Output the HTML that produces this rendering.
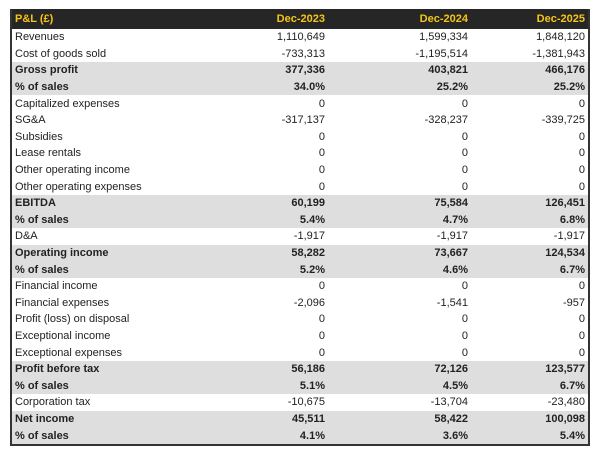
<!DOCTYPE html><html><head><style>
body{margin:0;width:600px;height:458px;background:#fff;font-family:"Liberation Sans",sans-serif;}
table{position:absolute;left:10px;top:9px;width:580px;border-collapse:collapse;border:2px solid #333;border-top:none;font-size:11px;color:#222;}
th{background:#262626;color:#f5c518;font-weight:bold;height:20px;padding:0 3px;text-align:right;}
th:first-child{text-align:left;}
td{height:16.6px;padding:0 3px;text-align:right;line-height:16px;}
td:first-child{text-align:left;width:238px;}
tr.b td{background:#dedede;font-weight:bold;}
col.c1{width:245px}
</style></head><body>
<table>
<colgroup><col style="width:245px"><col style="width:72px"><col style="width:143px"><col></colgroup>
<tr><th>P&amp;L (£)</th><th>Dec-2023</th><th>Dec-2024</th><th>Dec-2025</th></tr>
<tr><td>Revenues</td><td>1,110,649</td><td>1,599,334</td><td>1,848,120</td></tr>
<tr><td>Cost of goods sold</td><td>-733,313</td><td>-1,195,514</td><td>-1,381,943</td></tr>
<tr class="b"><td>Gross profit</td><td>377,336</td><td>403,821</td><td>466,176</td></tr>
<tr class="b"><td>% of sales</td><td>34.0%</td><td>25.2%</td><td>25.2%</td></tr>
<tr><td>Capitalized expenses</td><td>0</td><td>0</td><td>0</td></tr>
<tr><td>SG&amp;A</td><td>-317,137</td><td>-328,237</td><td>-339,725</td></tr>
<tr><td>Subsidies</td><td>0</td><td>0</td><td>0</td></tr>
<tr><td>Lease rentals</td><td>0</td><td>0</td><td>0</td></tr>
<tr><td>Other operating income</td><td>0</td><td>0</td><td>0</td></tr>
<tr><td>Other operating expenses</td><td>0</td><td>0</td><td>0</td></tr>
<tr class="b"><td>EBITDA</td><td>60,199</td><td>75,584</td><td>126,451</td></tr>
<tr class="b"><td>% of sales</td><td>5.4%</td><td>4.7%</td><td>6.8%</td></tr>
<tr><td>D&amp;A</td><td>-1,917</td><td>-1,917</td><td>-1,917</td></tr>
<tr class="b"><td>Operating income</td><td>58,282</td><td>73,667</td><td>124,534</td></tr>
<tr class="b"><td>% of sales</td><td>5.2%</td><td>4.6%</td><td>6.7%</td></tr>
<tr><td>Financial income</td><td>0</td><td>0</td><td>0</td></tr>
<tr><td>Financial expenses</td><td>-2,096</td><td>-1,541</td><td>-957</td></tr>
<tr><td>Profit (loss) on disposal</td><td>0</td><td>0</td><td>0</td></tr>
<tr><td>Exceptional income</td><td>0</td><td>0</td><td>0</td></tr>
<tr><td>Exceptional expenses</td><td>0</td><td>0</td><td>0</td></tr>
<tr class="b"><td>Profit before tax</td><td>56,186</td><td>72,126</td><td>123,577</td></tr>
<tr class="b"><td>% of sales</td><td>5.1%</td><td>4.5%</td><td>6.7%</td></tr>
<tr><td>Corporation tax</td><td>-10,675</td><td>-13,704</td><td>-23,480</td></tr>
<tr class="b"><td>Net income</td><td>45,511</td><td>58,422</td><td>100,098</td></tr>
<tr class="b"><td>% of sales</td><td>4.1%</td><td>3.6%</td><td>5.4%</td></tr>
</table>
</body></html>
